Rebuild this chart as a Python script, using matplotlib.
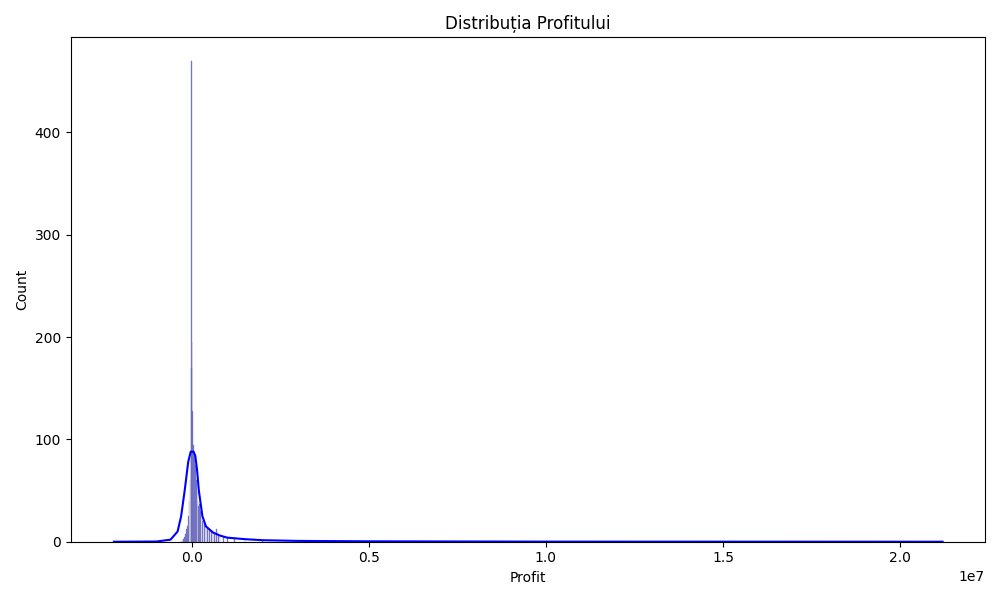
import matplotlib
matplotlib.use("Agg")
import matplotlib.pyplot as plt
import numpy as np

# histogram bins (profit in millions, counts)
bin_centers = [-2.2, -1.0, -0.30, -0.275, -0.25, -0.225, -0.2, -0.175, -0.15, -0.125, -0.1, -0.075,
               -0.05, -0.025, -0.01, 0.0, 0.01, 0.025, 0.05, 0.075, 0.1, 0.125, 0.15,
               0.175, 0.2, 0.225, 0.25, 0.3, 0.35, 0.4, 0.45, 0.5, 0.55, 0.6, 0.65,
               0.7, 0.75, 0.8, 0.9, 1.0, 1.2, 1.5, 2.0, 3.0, 4.0, 5.5, 21.2]
bin_counts = [1, 1, 1, 2, 2, 3, 5, 8, 12, 15, 25, 40,
              60, 80, 170, 470, 195, 128, 95, 85, 75, 60, 50,
              40, 35, 37, 30, 20, 17, 15, 14, 12, 10, 9, 8,
              12, 7, 6, 5, 4, 3, 2, 1, 1, 1, 1, 1]

# kde curve (profit in millions, count scale)
kde_x = [-2.2, -1.0, -0.6, -0.4, -0.3, -0.2, -0.1, -0.03, 0.05, 0.1, 0.15, 0.2,
         0.3, 0.4, 0.6, 0.8, 1.0, 1.5, 2.0, 3.0, 5.0, 10.0, 21.2]
kde_y = [0, 0.2, 2, 10, 25, 50, 78, 88, 88, 84, 70, 50,
         25, 15, 9, 6, 4, 2.5, 1.5, 0.8, 0.4, 0.1, 0]

fig, ax = plt.subplots(figsize=(10, 6), dpi=100)
x = np.array(bin_centers) * 1e6
ax.bar(x, bin_counts, width=20000, color="#5a5ae6", alpha=0.85,
       edgecolor="#7a7aa0", linewidth=0.3)
ax.plot(np.array(kde_x) * 1e6, kde_y, color="blue", linewidth=1.5)

ax.set_xlim(-3.42e6, 22.4e6)
ax.set_ylim(0, 493)
ax.set_title("Distribuția Profitului")
ax.set_xlabel("Profit")
ax.set_ylabel("Count")
fig.tight_layout()
fig.savefig("out.png")
